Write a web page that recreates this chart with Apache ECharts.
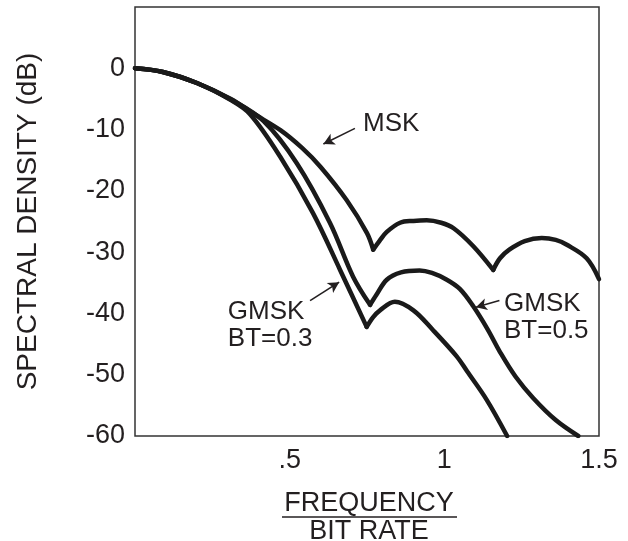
<!DOCTYPE html>
<html>
<head>
<meta charset="utf-8">
<script src="https://cdn.jsdelivr.net/npm/echarts@6/dist/echarts.min.js"></script>
<style>
html,body{margin:0;padding:0;background:#fff;}
#c{width:628px;height:541px;}
</style>
</head>
<body>
<div id="c"></div>
<script>
// ---- data ----
const xTicks = [0, 0.5, 1, 1.5];
const xTickLabels = ['', '.5', '1', '1.5'];
const yTicks = [-60, -50, -40, -30, -20, -10, 0];

const mskX = [0, 0.09, 0.2, 0.31, 0.38, 0.47, 0.54, 0.6, 0.684, 0.75, 0.77, 0.79, 0.814, 0.857, 0.9, 0.943, 0.99, 1.03, 1.093, 1.158, 1.18, 1.21, 1.26, 1.315, 1.36, 1.396, 1.46, 1.5];
const mskY = [0, -0.6, -2.4, -5.0, -7.3, -10.1, -13.0, -16.1, -21.5, -26.9, -29.6, -28.2, -26.7, -25.2, -24.9, -24.8, -25.2, -26.1, -29.0, -32.9, -31.0, -29.6, -28.2, -27.7, -28.0, -28.8, -31.0, -34.4];

const g05X = [0, 0.09, 0.2, 0.31, 0.415, 0.523, 0.63, 0.705, 0.76, 0.78, 0.814, 0.86, 0.92, 0.96, 1.008, 1.05, 1.093, 1.14, 1.18, 1.23, 1.287, 1.36, 1.433];
const g05Y = [0, -0.6, -2.4, -5.1, -8.6, -15.5, -25.2, -34.0, -38.6, -37.0, -34.5, -33.3, -33.0, -33.4, -34.5, -36.0, -38.8, -42.6, -46.3, -50.3, -53.8, -57.4, -60];

const g03X = [0, 0.09, 0.2, 0.31, 0.372, 0.469, 0.575, 0.663, 0.749, 0.77, 0.792, 0.84, 0.9, 0.963, 1.04, 1.073, 1.137, 1.203];
const g03Y = [0, -0.6, -2.4, -5.2, -7.5, -14.4, -23.6, -32.9, -42.2, -40.6, -39.5, -38.1, -39.5, -42.7, -47.0, -49.4, -54.1, -60];

const FONT = '"Liberation Sans", Arial, Helvetica, sans-serif';
const INK = '#231f20';

// split a curve into smooth pieces at its sharp nulls (local minima)
function pieces(xs, ys) {
  const out = [];
  let cur = [[xs[0], ys[0]]];
  for (let i = 1; i < xs.length; i++) {
    cur.push([xs[i], ys[i]]);
    if (i < xs.length - 1 && ys[i] < ys[i - 1] && ys[i] < ys[i + 1]) {
      out.push(cur);
      cur = [[xs[i], ys[i]]];
    }
  }
  out.push(cur);
  return out;
}

const chart = echarts.init(document.getElementById('c'), null, {renderer: 'canvas'});

function arrow(from, to) {
  return [{coord: from}, {coord: to}];
}
function note(coord, text) {
  return {
    coord: coord,
    symbol: 'circle', symbolSize: 0.01,
    label: {
      show: true, formatter: text, position: [0, 0],
      align: 'left', verticalAlign: 'middle',
      fontFamily: FONT, fontSize: 26, color: INK, lineHeight: 27
    }
  };
}

const lineBase = {
  type: 'line', showSymbol: false, symbol: 'none', smooth: 0.35,
  lineStyle: {color: '#1a1a1a', width: 4.5, cap: 'round', join: 'round'},
  animation: false, z: 3
};

const curves = [
  {name: 'MSK', xs: mskX, ys: mskY},
  {name: 'GMSK BT=0.5', xs: g05X, ys: g05Y},
  {name: 'GMSK BT=0.3', xs: g03X, ys: g03Y}
];

const series = [];
curves.forEach(c => {
  pieces(c.xs, c.ys).forEach(p => {
    series.push(Object.assign({}, lineBase, {name: c.name, data: p}));
  });
});

// annotations (arrows + labels) in data coordinates
series.push({
  type: 'line', name: 'notes', data: [], silent: true, animation: false,
  markLine: {
    silent: true, symbol: ['none', 'arrow'], symbolSize: [9, 11], animation: false,
    lineStyle: {color: INK, width: 1.6, type: 'solid'}, label: {show: false},
    data: [
      arrow([0.711, -9.8], [0.609, -12.35]),
      arrow([0.566, -37.9], [0.66, -34.9]),
      arrow([1.178, -37.9], [1.102, -39.0])
    ]
  },
  markPoint: {
    silent: true, animation: false,
    data: [
      note([0.737, -9.1], 'MSK'),
      note([0.300, -41.9], 'GMSK\nBT=0.3'),
      note([1.193, -40.6], 'GMSK\nBT=0.5')
    ]
  }
});

chart.setOption({
  animation: false,
  backgroundColor: '#ffffff',
  grid: {left: 135, right: 29, top: 7, bottom: 105, show: true, borderColor: '#333', borderWidth: 1.5, backgroundColor: 'transparent'},
  xAxis: {
    type: 'value', min: 0, max: 1.5, interval: 0.5,
    axisLine: {show: false}, axisTick: {show: false}, splitLine: {show: false},
    axisLabel: {
      margin: 11, fontFamily: FONT, fontSize: 27, color: INK,
      formatter: v => { const i = xTicks.findIndex(t => Math.abs(t - v) < 1e-9); return i >= 0 ? xTickLabels[i] : ''; }
    }
  },
  yAxis: {
    type: 'value', min: -60, max: 10, interval: 10,
    axisLine: {show: false}, axisTick: {show: false}, splitLine: {show: false},
    axisLabel: {
      margin: 10, fontFamily: FONT, fontSize: 27, color: INK,
      formatter: v => yTicks.indexOf(v) >= 0 ? String(v) : ''
    },
    name: 'SPECTRAL DENSITY (dB)', nameLocation: 'middle', nameRotate: 90, nameGap: 93,
    nameTextStyle: {fontFamily: FONT, fontSize: 28, color: INK}
  },
  series: series,
  graphic: [
    {type: 'text', x: 369, y: 504, style: {text: 'FREQUENCY', font: '27px ' + FONT, fill: INK, align: 'center', verticalAlign: 'middle'}},
    {type: 'line', shape: {x1: 282, y1: 517, x2: 457, y2: 517}, style: {stroke: INK, lineWidth: 1.5}},
    {type: 'text', x: 369, y: 532, style: {text: 'BIT RATE', font: '27px ' + FONT, fill: INK, align: 'center', verticalAlign: 'middle'}}
  ]
});
</script>
</body>
</html>
